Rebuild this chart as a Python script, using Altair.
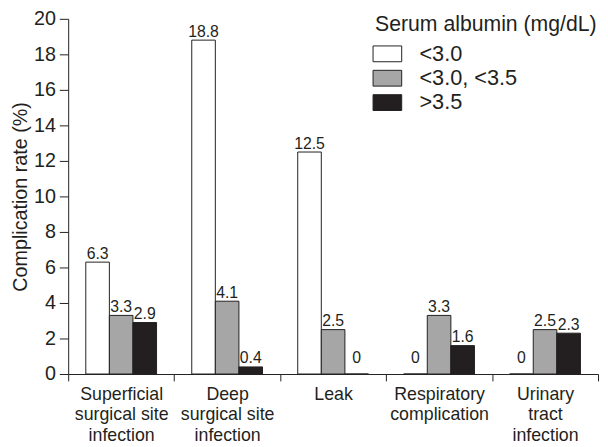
import altair as alt
import pandas as pd

categories = [
    "Superficial|surgical site|infection",
    "Deep|surgical site|infection",
    "Leak",
    "Respiratory|complication",
    "Urinary|tract|infection",
]
groups = ["<3.0", "<3.0, <3.5", ">3.5"]
below_30 = [6.3, 18.8, 12.5, 0, 0]
between_30_35 = [3.3, 4.1, 2.5, 3.3, 2.5]
above_35 = [2.9, 0.4, 0, 1.6, 2.3]
colors = ["#ffffff", "#a6a6a6", "#231f20"]
y_ticks = [0, 2, 4, 6, 8, 10, 12, 14, 16, 18, 20]

rows = []
for i, c in enumerate(categories):
    for g, vals in zip(groups, [below_30, between_30_35, above_35]):
        rows.append({"category": c, "group": g, "value": vals[i], "label": f"{vals[i]:g}"})
df = pd.DataFrame(rows)

FONT = "Liberation Sans"
INK = "#231f20"

x_enc = alt.X(
    "category:N",
    sort=categories,
    scale=alt.Scale(paddingInner=0, paddingOuter=0),
    axis=alt.Axis(
        title=None,
        labelExpr="split(datum.label, '|')",
        labelAngle=0,
        tickBand="extent",
        tickSize=7,
        labelPadding=5,
        labelFontSize=18,
        labelLineHeight=20.5,
        labelFont=FONT,
        labelColor=INK,
        domainColor=INK,
        tickColor=INK,
        grid=False,
    ),
)
xo_enc = alt.XOffset(
    "group:N", sort=groups, scale=alt.Scale(paddingInner=0, paddingOuter=0.746)
)
y_enc = alt.Y(
    "value:Q",
    scale=alt.Scale(domain=[0, 20], nice=False),
    axis=alt.Axis(
        title="Complication rate (%)",
        values=y_ticks,
        tickSize=9,
        labelPadding=4,
        labelFontSize=20,
        labelFont=FONT,
        labelColor=INK,
        titleFontSize=20,
        titleFont=FONT,
        titleFontWeight="normal",
        titleColor=INK,
        titlePadding=3,
        domainColor=INK,
        tickColor=INK,
        grid=False,
    ),
)

base = alt.Chart(df)

bars = base.mark_bar(stroke=INK, strokeWidth=1).encode(
    x=x_enc,
    xOffset=xo_enc,
    y=y_enc,
    fill=alt.Fill(
        "group:N",
        sort=groups,
        scale=alt.Scale(domain=groups, range=colors),
        legend=alt.Legend(
            title="Serum albumin (mg/dL)",
            orient="none",
            legendX=311,
            legendY=-5,
            padding=0,
            titleFontSize=21.5,
            titleFont=FONT,
            titleFontWeight="normal",
            titleColor=INK,
            titlePadding=6.5,
            titleLimit=400,
            labelFontSize=22,
            labelFont=FONT,
            labelColor=INK,
            labelOffset=20,
            labelLimit=300,
            rowPadding=0.7,
            symbolType="M-1.21,-0.667L1.21,-0.667L1.21,0.667L-1.21,0.667Z",
            symbolSize=576,
            symbolStrokeColor=INK,
            symbolStrokeWidth=1,
        ),
    ),
)

labels_nonzero = base.transform_filter("datum.value > 0").mark_text(
    baseline="alphabetic", dy=-3.5, fontSize=16, font=FONT, color=INK
).encode(x=x_enc, xOffset=xo_enc, y=y_enc, text="label:N")

labels_zero = base.transform_filter("datum.value == 0").mark_text(
    baseline="alphabetic", dy=-11, fontSize=16, font=FONT, color=INK
).encode(x=x_enc, xOffset=xo_enc, y=y_enc, text="label:N")

chart = (
    alt.layer(bars, labels_nonzero, labels_zero)
    .properties(
        width=537,
        height=360,
        autosize=alt.AutoSizeParams(type="none"),
        padding={"left": 61, "top": 8, "right": 2, "bottom": 71},
        background="white",
    )
    .configure_view(stroke=None)
)

chart.save("out.html", embed_options={"renderer": "svg", "actions": False})
